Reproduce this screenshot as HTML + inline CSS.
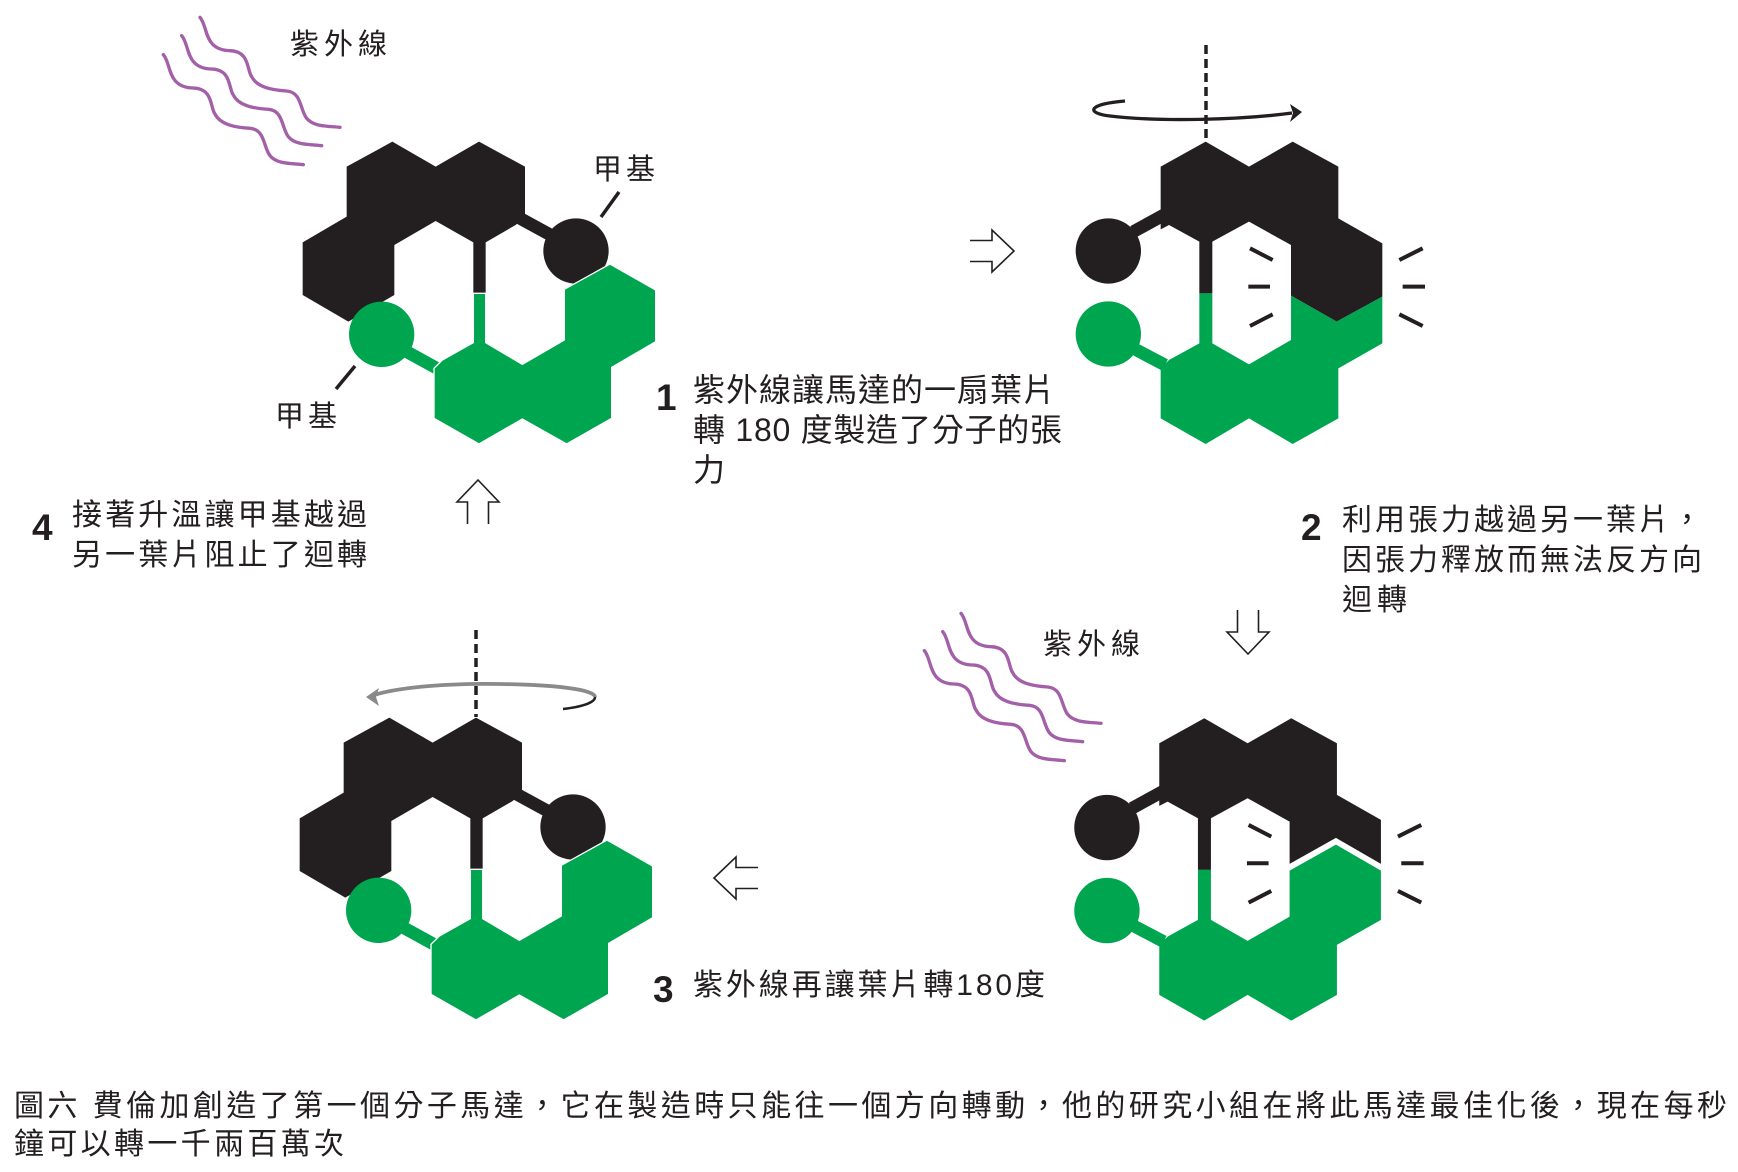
<!DOCTYPE html>
<html><head><meta charset="utf-8"><style>
html,body{margin:0;padding:0;background:#fff;}
svg{display:block;}
text{font-family:"Liberation Sans","Noto Sans CJK TC",sans-serif;fill:#231f20;}
.n{font-family:"Liberation Sans",sans-serif;font-weight:bold;font-size:37px;}
</style></head><body>
<svg width="1738" height="1172" viewBox="0 0 1738 1172" xmlns="http://www.w3.org/2000/svg" xmlns:xlink="http://www.w3.org/1999/xlink">
<defs>
<g id="m1">
 <line x1="720" y1="295" x2="830" y2="355" stroke="#231f20" stroke-width="38"/>
 <polygon fill="#231f20" points="68,367 200,290 200,140 337,65 467,140 597,65 735,140 735,290 707,315 617,367 617,520 580,520 580,367 467,303 343,375 343,525 205,605 68,525"/>
 <circle cx="888" cy="393" r="98" fill="#231f20"/>
 <line x1="380" y1="695" x2="480" y2="750" stroke="#00a550" stroke-width="38"/>
 <polygon fill="#00a550" stroke="#fff" stroke-width="4" points="580,520 617,520 617,668 727,733 853,660 853,508 990,432 1127,510 1127,665 995,742 995,895 860,972 727,897 597,972 462,895 462,745 487,720 580,668"/>
 <circle cx="305" cy="643" r="98" fill="#00a550"/>
</g>
<g id="wave" fill="none" stroke="#a35fa8" stroke-width="10" stroke-linecap="round">
 <path d="M150,22 C175,50 160,120 240,122 C300,124 290,180 305,200 C320,230 360,240 410,243 C455,246 450,300 470,325 C490,350 530,348 570,352"/>
 <path transform="translate(-55,55)" d="M150,22 C175,50 160,120 240,122 C300,124 290,180 305,200 C320,230 360,240 410,243 C455,246 450,300 470,325 C490,350 530,348 570,352"/>
 <path transform="translate(-110,112)" d="M150,22 C175,50 160,120 240,122 C300,124 290,180 305,200 C320,230 360,240 410,243 C455,246 450,300 470,325 C490,350 530,348 570,352"/>
</g>
<g id="ticks" stroke="#231f20" stroke-width="12">
 <line x1="600" y1="655" x2="668" y2="690"/><line x1="595" y1="770" x2="660" y2="770"/><line x1="600" y1="888" x2="668" y2="853"/>
 <line x1="1048" y1="690" x2="1118" y2="655"/><line x1="1058" y1="770" x2="1125" y2="770"/><line x1="1048" y1="853" x2="1118" y2="888"/>
</g>
<path id="arr" d="M44,-10.5 H22 V-21 L0,0 L22,21 V10.5 H44" fill="#fff" stroke="#231f20" stroke-width="1.6" stroke-linejoin="miter"/>
</defs>

<g transform="translate(280,120) scale(0.33333)"><use xlink:href="#m1"/></g>
<g transform="translate(277,696) scale(0.33333)"><use xlink:href="#m1"/></g>

<g transform="translate(1050,30) scale(0.33333)">
 <line x1="250" y1="605" x2="345" y2="553" stroke="#231f20" stroke-width="38"/>
 <polygon fill="#231f20" points="332,410 467,335 597,410 728,335 865,410 865,565 997,640 997,800 860,875 723,797 723,645 597,575 487,635 487,790 448,790 448,635 357,585 332,598"/>
 <circle cx="175" cy="663" r="98" fill="#231f20"/>
 <line x1="250" y1="955" x2="345" y2="1005" stroke="#00a550" stroke-width="38"/>
 <polygon fill="#00a550" points="448,790 487,790 487,940 597,1003 723,930 723,797 860,875 997,800 997,940 865,1015 865,1165 728,1242 597,1165 467,1242 332,1165 332,1015 357,990 448,940"/>
 <circle cx="175" cy="912" r="98" fill="#00a550"/>
 <use xlink:href="#ticks"/>
</g>
<g transform="translate(1048.6,606.6) scale(0.33333)">
 <line x1="250" y1="605" x2="345" y2="553" stroke="#231f20" stroke-width="38"/>
 <polygon fill="#231f20" points="332,410 467,335 597,410 728,335 865,410 865,565 997,640 997,772 862,694 723,772 723,645 597,575 487,635 487,790 448,790 448,635 357,585 332,598"/>
 <circle cx="175" cy="663" r="98" fill="#231f20"/>
 <line x1="250" y1="955" x2="345" y2="1005" stroke="#00a550" stroke-width="38"/>
 <polygon fill="#00a550" points="448,790 487,790 487,940 597,1003 723,930 723,792 862,714 997,792 997,940 865,1015 865,1165 728,1242 597,1165 467,1242 332,1165 332,1015 357,990 448,940"/>
 <circle cx="175" cy="912" r="98" fill="#00a550"/>
 <use xlink:href="#ticks"/>
</g>

<g transform="translate(150,10) scale(0.33333)"><use xlink:href="#wave"/></g>
<g transform="translate(911,606) scale(0.33333)"><use xlink:href="#wave"/></g>

<line x1="1206" y1="45" x2="1206" y2="142" stroke="#231f20" stroke-width="3.5" stroke-dasharray="9,5"/>
<line x1="476" y1="630" x2="476" y2="717" stroke="#231f20" stroke-width="3.5" stroke-dasharray="9,5"/>

<path d="M1125,101 C1088,104 1085,113 1110,116 C1160,122 1240,120 1292,113" fill="none" stroke="#231f20" stroke-width="3.3"/>
<polygon points="1302,112 1290,104 1293,113 1290,122" fill="#231f20"/>
<path d="M374,695 C400,687 450,683 500,684 C560,685 595,690 595,697" fill="none" stroke="#8a8a8a" stroke-width="3.8"/>
<path d="M595,697 C595,703 580,707 563,709" fill="none" stroke="#231f20" stroke-width="2.5"/>
<polygon points="366,697 379,688 376,697 379,706" fill="#8a8a8a"/>

<use xlink:href="#arr" transform="translate(1014,251) rotate(180)"/>
<use xlink:href="#arr" transform="translate(714,878)"/>
<use xlink:href="#arr" transform="translate(478,480) rotate(90)"/>
<use xlink:href="#arr" transform="translate(1248,654) rotate(-90)"/>

<line x1="619" y1="192" x2="601" y2="217" stroke="#231f20" stroke-width="3.5"/>
<line x1="355" y1="366" x2="336" y2="389" stroke="#231f20" stroke-width="3.5"/>

<text x="290" y="54" font-size="29" textLength="97" lengthAdjust="spacing">紫外線</text>
<text x="1043" y="654" font-size="29" textLength="97" lengthAdjust="spacing">紫外線</text>
<text x="593" y="179" font-size="29" textLength="62" lengthAdjust="spacing">甲基</text>
<text x="275" y="426" font-size="29" textLength="62" lengthAdjust="spacing">甲基</text>

<text class="n" x="656" y="410">1</text>
<text x="693" y="401" font-size="32" textLength="362" lengthAdjust="spacing">紫外線讓馬達的一扇葉片</text>
<text x="693" y="441" font-size="32" textLength="369" lengthAdjust="spacing">轉 180 度製造了分子的張</text>
<text x="693" y="481" font-size="32">力</text>

<text class="n" x="1301" y="540">2</text>
<text x="1342" y="530" font-size="30" textLength="360" lengthAdjust="spacing">利用張力越過另一葉片，</text>
<text x="1342" y="570" font-size="30" textLength="360" lengthAdjust="spacing">因張力釋放而無法反方向</text>
<text x="1342" y="610" font-size="30" textLength="65" lengthAdjust="spacing">迴轉</text>

<text class="n" x="653" y="1002">3</text>
<text x="693" y="995" font-size="30" textLength="352" lengthAdjust="spacing">紫外線再讓葉片轉180度</text>

<text class="n" x="32" y="540">4</text>
<text x="72" y="525" font-size="30" textLength="295" lengthAdjust="spacing">接著升溫讓甲基越過</text>
<text x="72" y="565" font-size="30" textLength="295" lengthAdjust="spacing">另一葉片阻止了迴轉</text>

<text x="14" y="1116" font-size="30" textLength="1713" lengthAdjust="spacing">圖六 費倫加創造了第一個分子馬達，它在製造時只能往一個方向轉動，他的研究小組在將此馬達最佳化後，現在每秒</text>
<text x="14" y="1154" font-size="30" textLength="330" lengthAdjust="spacing">鐘可以轉一千兩百萬次</text>
</svg>
</body></html>
